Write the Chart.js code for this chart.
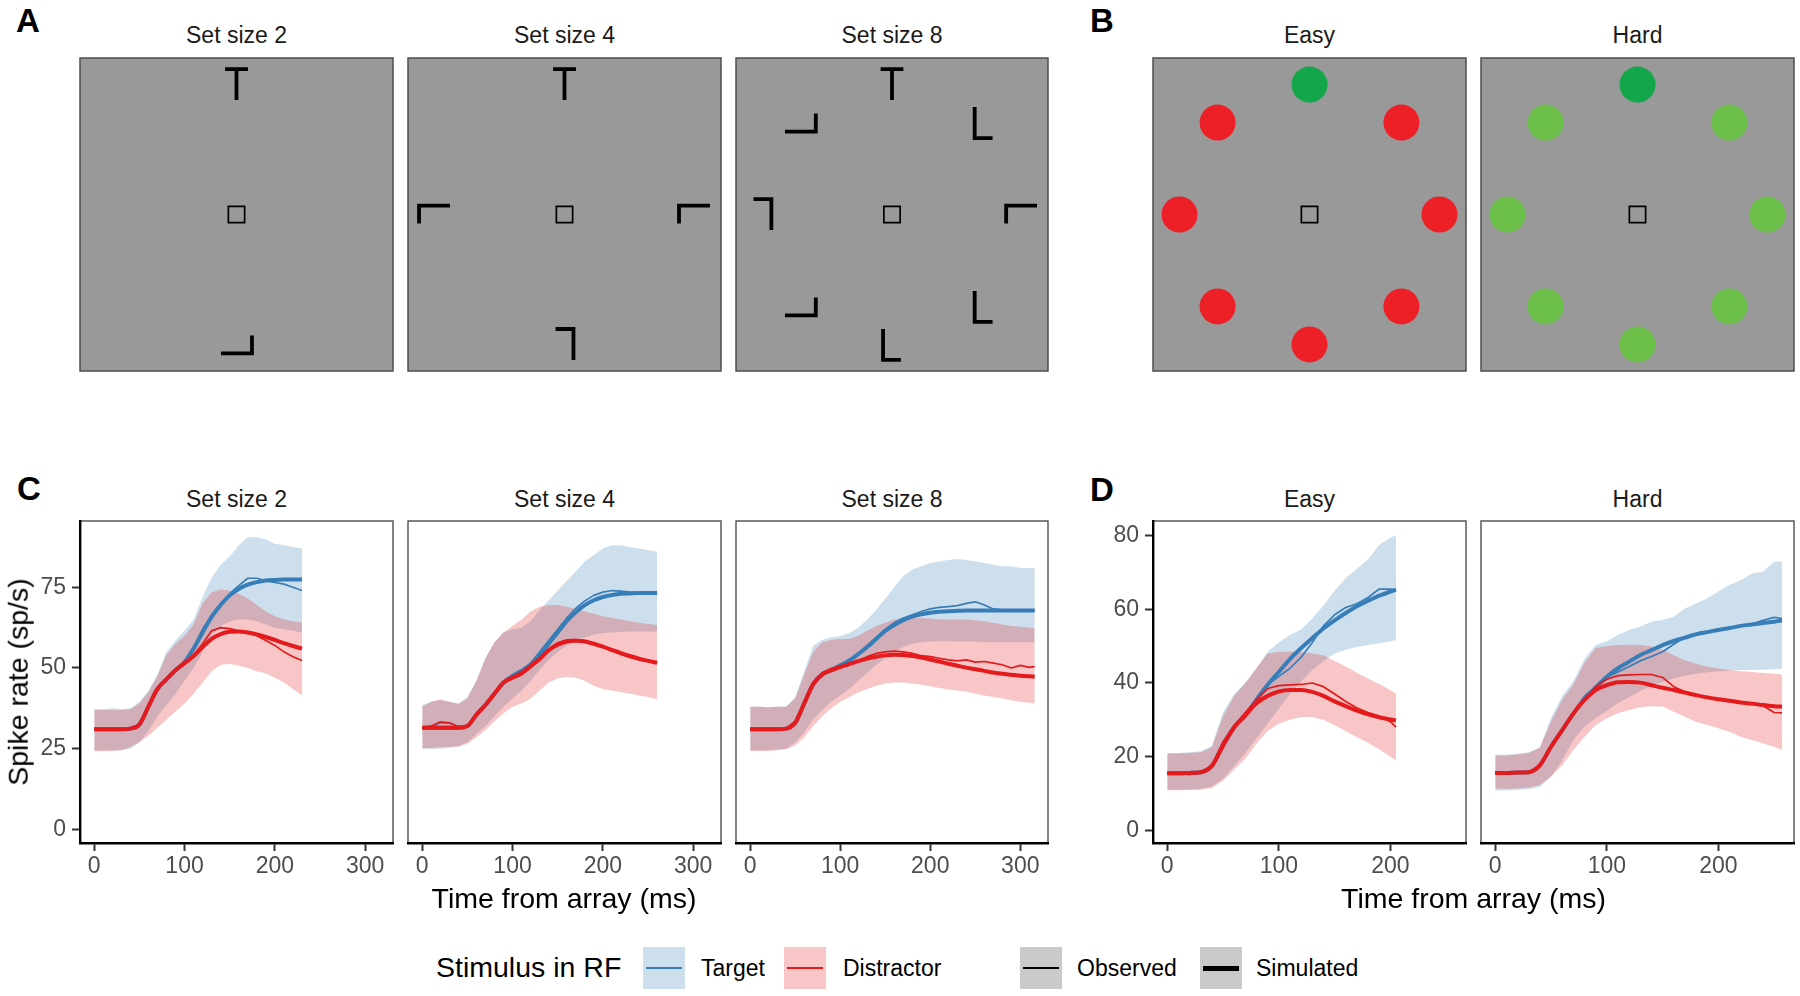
<!DOCTYPE html>
<html>
<head>
<meta charset="utf-8">
<script src="https://cdn.jsdelivr.net/npm/chart.js@4.4.1/dist/chart.umd.min.js"></script>
<style>
  html, body { margin: 0; padding: 0; background: #fff; }
  #fig { position: relative; width: 1800px; height: 996px; overflow: hidden;
         font-family: "Liberation Sans", Arial, sans-serif; }
  #fig canvas { position: absolute; }
  .txt { position: absolute; white-space: nowrap; line-height: 1; color: #000; }
  .ctr { transform: translateX(-50%); }
  .strip { font-size: 23px; color: #1a1a1a; }
  .tag { font-size: 33px; font-weight: bold; }
  .title { font-size: 28.5px; }
  .lab { font-size: 23px; }
  .key { position: absolute; width: 42px; height: 42px; }
  .key i { position: absolute; left: 3px; right: 3px; }
</style>
</head>
<body>
<div id="fig"></div>
<script>
// ---------- panel A: search arrays (angle on ring, glyph, glyph rotation) ----------
const ss2Angle = [90, 270];
const ss2Glyph = ['T', 'L'];
const ss2Rot = [0, 90];
const ss4Angle = [90, 180, 0, 270];
const ss4Glyph = ['T', 'L', 'L', 'L'];
const ss4Rot = [0, 270, 270, 180];
const ss8Angle = [90, 135, 45, 180, 0, 225, 315, 270];
const ss8Glyph = ['T', 'L', 'L', 'L', 'L', 'L', 'L', 'L'];
const ss8Rot = [0, 90, 0, 180, 270, 90, 0, 0];

// ---------- panel B: colour search arrays ----------
const ringAngle = [90, 45, 0, 315, 270, 225, 180, 135];
const easyKind = ['target', 'red', 'red', 'red', 'red', 'red', 'red', 'red'];
const hardKind = ['target', 'lime', 'lime', 'lime', 'lime', 'lime', 'lime', 'lime'];

// ---------- panel C / D: spike rates (sp/s) ----------
const tSS2 = [0,10,20,30,40,50,60,70,80,90,100,110,120,130,140,150,160,170,180,190,200,210,220,230];
const tgtLoSS2 = [24.5,24.5,24.5,24.5,25,27,30.5,35,38.5,42,46,50,55,60,63,64.5,65,65,64.5,63.5,62.5,62,61.5,61];
const tgtHiSS2 = [37.2,37.3,37.5,37.3,37.5,39.5,43,48,55,58.5,61.5,65,72,78,82,84.5,88,90.5,90.5,89.8,88.5,88,87.5,87];
const disLoSS2 = [24.2,24.2,24.3,24.5,25.5,27,29,31.5,34,36.5,39,42,45.5,49,51,51.2,50.8,50,49,48.3,47,45.5,43.5,41.5];
const disHiSS2 = [37,37,37,37,37.2,39,42.5,47.5,54,57.5,60,63.5,70,73.5,74.3,74,73,71.5,69.5,67.5,66,65,64.5,64];
const tgtObsSS2 = [31,31,30.8,31,31.3,32.5,38.5,43,46.5,49.5,52,56.5,62,66.5,70,73,75.5,77.8,77.8,77,76.5,76,75,74];
const tgtSimSS2 = [31,31,31,31,31.2,32.5,38,43.5,46.5,49.3,51.8,56,61,65.8,69.5,72.5,74.5,75.8,76.6,77.1,77.3,77.4,77.4,77.4];
const disObsSS2 = [31,31,30.8,31,31.3,32.5,38.5,43,46.5,49.5,51.8,54,57.5,61.5,62.5,62.2,61.5,61,60,58.5,57,55,53.5,52.3];
const disSimSS2 = [31,31,31,31,31.2,32.5,38,43.5,46.5,49.3,51.5,53.7,56.5,59,60.5,61.2,61.3,61,60.4,59.6,58.7,57.7,56.8,56];

const tSS4 = [0,10,20,30,40,50,60,70,80,90,100,110,120,130,140,150,160,170,180,190,200,210,220,230,240,250,260];
const tgtLoSS4 = [25,25,25,25.3,25.8,27,29.5,32,35,38,40.5,43,46,49.5,52.5,55,57,58.5,59.5,60.3,60.8,61,61.2,61.3,61.3,61.3,61.3];
const tgtHiSS4 = [38.5,39.5,40,39.5,39,41,46,53,58,61,62,62.5,64.5,68,71,74,77,80,83,85,87,88,88,87.5,87,86.5,86];
const disLoSS4 = [25.1,25.2,25.4,25.5,25.6,26.5,28.5,30.8,33.5,36,38,39,40.5,43,45.5,46.8,47.2,47,46,44.5,43.5,43,42.5,42,41.5,41,40.3];
const disHiSS4 = [38,39.5,40.3,39.5,38.8,40.5,46,53,58,61,63,65,67.5,69,69.5,69.5,69,68.3,67.5,66.8,66,65.5,65,64.5,64,63.6,63.3];
const tgtObsSS4 = [31.5,31.8,33,33,31.8,32,36,39,42.5,45.5,48,49.5,51.5,55,58.5,62,65.5,68.5,70.8,72.5,73.5,74,73.8,73.5,73.3,73,73];
const tgtSimSS4 = [31.5,31.5,31.5,31.5,31.5,32,35.5,38.5,42,45.5,47.5,49,51,54,57.5,61,64.5,67.3,69.5,71,72,72.6,73,73.1,73.2,73.2,73.2];
const disObsSS4 = [31.5,32,33.3,33,31.8,32,36,39,42.5,45.5,47.3,48.8,51,53.3,56,57.8,58.7,58.8,58.5,57.5,56.5,55.3,54.2,53.3,52.5,52,51.5];
const disSimSS4 = [31.5,31.5,31.5,31.5,31.5,32,35.5,38.5,42,45.5,47,48.3,50.5,52.8,55.5,57.2,58.2,58.4,58.2,57.5,56.6,55.6,54.6,53.7,52.9,52.2,51.6];

const tSS8 = [0,10,20,30,40,50,60,70,80,90,100,110,120,130,140,150,160,170,180,190,200,210,220,230,240,250,260,270,280,290,300,310,316];
const tgtLoSS8 = [24.5,24.5,24.5,24.7,25,27,30,34,37,39.5,41.5,43.5,46,48.5,51,53,55,56.5,57.5,58,58.2,58.3,58.3,58.2,58.2,58.2,58,58,58,58,58,58,58];
const tgtHiSS8 = [38,38,37.8,38,38,41,49,57,58.7,59.5,59.8,60.8,62.5,65,68,71.5,75,78.5,80.5,81.5,82.5,83,83.5,83.8,83.5,83,82.5,82,81.5,81.5,81,81,81];
const disLoSS8 = [24.3,24.3,24.3,24.5,24.8,26,28.5,32,35,37.5,39.5,41,42.5,43.5,44.5,45.2,45.5,45.5,45.2,44.8,44.3,43.8,43.3,43,42.7,42,41.5,41,40.5,40,39.5,39.2,39];
const disHiSS8 = [38,38,37.8,38,38,40.5,48,55,58,58.7,59,59,60,61.5,63,64,65,65.5,65.5,65.5,65.3,65,65,65,65,64.8,64.5,64,63.5,63,62.8,62.5,62.4];
const tgtObsSS8 = [31,31,30.8,31,31.3,33.5,39.5,45.5,48.5,49.8,51,52.5,54.5,57,59.5,62,64,65.5,66.5,67.5,68.3,68.8,69,69.3,70,70.5,69.5,68.3,68,68,67.8,68,67.8];
const tgtSimSS8 = [31,31,31,31,31.2,33,39,45,48,49.3,50.8,52.3,54.3,56.5,59,61.5,63.3,64.8,65.9,66.6,67.1,67.4,67.6,67.7,67.8,67.8,67.8,67.8,67.8,67.8,67.8,67.8,67.8];
const disObsSS8 = [31,31,31,30.8,31.2,33.5,39.5,45,48.5,49.8,50.5,51.5,52.3,53.5,54.5,55,55.2,55,54.5,53.8,53.5,53,52.5,52.2,52.5,51.8,52,51.5,51,50,50.8,50.2,50.4];
const disSimSS8 = [31,31,31,31,31.2,33,39,45,48,49.3,50.3,51.2,52.1,52.9,53.5,53.9,54.1,54,53.7,53.2,52.6,52,51.3,50.7,50.1,49.6,49.1,48.6,48.2,47.9,47.6,47.4,47.3];

const tEasy = [0,10,20,30,40,50,60,70,80,90,100,110,120,130,140,150,160,170,180,190,200,205];
const tgtLoEasy = [11,11,11,11.2,12,14,17.5,21,25,29,33,37,40.5,43.5,46,48,49,49.8,50.3,50.8,51.3,51.6];
const tgtHiEasy = [21,21,21.2,21.5,23,32,37,40,44,48.5,51,53,54.5,57.5,61,65,68.5,71,73.5,77.5,79.5,80];
const disLoEasy = [10.9,10.9,11,11,11.5,13.5,16.5,19.5,23.5,27,29,30,30.8,30.8,30,28.5,27,25.3,23.8,22,20,19];
const disHiEasy = [20.9,20.9,21,21.2,22.5,31,36.5,40,44,48,48.5,48.5,48.5,48,47.5,46,44.5,42.8,41.2,39.7,38,37];
const tgtObsEasy = [15.3,15.3,15.2,15.8,17.5,24,28.5,30.8,35.5,39.5,41.8,44,47,51,55.5,58.5,60.5,61.5,63.2,65.5,65.5,65.3];
const tgtSimEasy = [15.5,15.5,15.6,15.8,17.5,23,28,31.2,35.5,39.5,43,46.5,49.5,52.2,54.8,57,59,60.8,62.3,63.7,64.8,65.3];
const disObsEasy = [15.3,15.4,15.2,15.8,17.5,24,28.5,32,35.5,38.5,39.3,39.5,39.6,40,39,37,35,33.2,32,31,29.5,28];
const disSimEasy = [15.5,15.5,15.6,15.8,17.5,23,28,31.2,34.5,36.5,37.7,38.1,38.1,37.6,36.5,35,33.7,32.5,31.5,30.7,30.1,29.8];

const tHard = [0,10,20,30,40,50,60,70,80,90,100,110,120,130,140,150,160,170,180,190,200,210,220,230,240,250,257];
const tgtLoHard = [10.8,10.8,11,11.2,11.8,14.6,19,24.5,28.1,30.5,32.5,34.5,36.2,37.8,39.2,40.3,41.2,42,42.5,42.9,43.2,43.4,43.5,43.5,43.6,43.7,43.8];
const tgtHiHard = [20.5,20.5,20.8,21.2,22.5,30.5,36.5,40.5,46.5,50.3,51.3,53,54.4,55.3,56.6,57.1,58,60.2,61.6,63,64.8,66.6,67.9,69.7,70.2,72.9,73];
const disLoHard = [11.3,11.3,11.4,11.6,12.3,14.6,17.7,21.8,25.4,28.6,30.4,31.8,32.7,33.4,33.7,33.6,32.2,30.8,29.5,28.6,27.7,26.8,25.4,24.5,23.6,22.7,21.8];
const disHiHard = [20.3,20.3,20.6,21,22.5,29.5,35.5,39.5,45.5,49.5,50,50.3,50.4,50.3,50,49,47.5,46.2,45.2,44.4,43.9,43.5,43.2,43,42.7,42.5,42.3];
const tgtObsHard = [15.4,15.5,15.6,15.8,17.5,22.5,27.5,32,36.5,39,41.5,43,44.5,46,47.2,48.5,50.5,52.5,53.5,54,54.6,55,55.6,56,57,57.8,57.5];
const tgtSimHard = [15.6,15.6,15.7,15.8,17.6,22.7,27.2,31.7,35.6,38.8,41.7,44,45.8,47.6,48.9,50.3,51.4,52.3,53.2,53.8,54.4,54.9,55.5,55.9,56.3,56.6,57];
const disObsHard = [15.6,15.6,15.7,15.8,17.5,22.5,27,31.5,35.5,39,41,42,42.2,42.3,42.3,41.5,39,37.6,36.8,36.1,35.6,35.2,34.7,34.3,33.8,32,31.9];
const disSimHard = [15.6,15.6,15.7,15.8,17.7,22.7,27.2,31.7,35.4,38.1,39.4,40.2,40.3,40.1,39.4,38.7,38.1,37.4,36.7,36.1,35.6,35.2,34.7,34.4,34,33.7,33.6];

// axis ticks
const xTicksC = [0, 100, 200, 300];
const xTicksD = [0, 100, 200];
const yTicksC = [0, 25, 50, 75];
const yTicksD = [0, 20, 40, 60, 80];

const stripA = ['Set size 2', 'Set size 4', 'Set size 8'];
const stripB = ['Easy', 'Hard'];

// ---------- layout / style ----------
const colL = [80, 408, 736, 1153, 1481];
const colR = [393, 721, 1048, 1466, 1794];
const BLUE = '#377EB8', RED = '#E41A1C';
const BLUE_BAND = 'rgba(55,126,184,0.25)', RED_BAND = 'rgba(228,26,28,0.25)';
const dotColour = { target: '#14A64A', red: '#ED2027', lime: '#6CC04A' };
const LIM = 1.204;          // ring radius = 1
const GH = 0.119, GA = 0.069, GB = 0.088;   // glyph half height, L arm, T bar

Chart.defaults.font.family = '"Liberation Sans", Arial, sans-serif';
const fig = document.getElementById('fig');

const panelFrame = {
  id: 'panelFrame',
  beforeDraw(chart, args, opts) {
    const { ctx, chartArea: a } = chart;
    ctx.save();
    if (opts.fill) {
      ctx.fillStyle = opts.fill;
      ctx.fillRect(a.left, a.top, a.right - a.left, a.bottom - a.top);
    }
    ctx.strokeStyle = opts.color;
    ctx.lineWidth = opts.width;
    ctx.strokeRect(a.left, a.top, a.right - a.left, a.bottom - a.top);
    ctx.restore();
  }
};

function placeCanvas(box, pad) {
  const c = document.createElement('canvas');
  const w = box.r - box.l + pad.l + pad.r, h = box.b - box.t + pad.t + pad.b;
  c.width = w; c.height = h;
  c.style.width = w + 'px'; c.style.height = h + 'px';
  c.style.left = (box.l - pad.l) + 'px'; c.style.top = (box.t - pad.t) + 'px';
  fig.appendChild(c);
  return c;
}

function addText(text, cls, style) {
  const d = document.createElement('div');
  d.className = 'txt ' + cls;
  d.textContent = text;
  Object.assign(d.style, style);
  fig.appendChild(d);
  return d;
}

function noPad(s) { s.paddingTop = 0; s.paddingBottom = 0; s.paddingLeft = 0; s.paddingRight = 0; }

// glyph strokes in local units, then rotated and moved onto the ring
function glyphLines(angles, glyphs, rots) {
  const pts = [];
  angles.forEach((ang, i) => {
    const cx = Math.cos(ang * Math.PI / 180), cy = Math.sin(ang * Math.PI / 180);
    const r = rots[i] * Math.PI / 180, cr = Math.cos(r), sr = Math.sin(r);
    const strokes = glyphs[i] === 'T'
      ? [[[-GB, GH], [GB, GH]], [[0, GH], [0, -GH]]]
      : [[[-GA, GH], [-GA, -GH], [GA, -GH]]];
    strokes.forEach(st => {
      st.forEach(([u, v]) => pts.push({ x: cx + u * cr - v * sr, y: cy + u * sr + v * cr }));
      pts.push({ x: cx, y: null });
    });
  });
  return pts;
}

function fixation() {
  return { data: [{ x: 0, y: 0 }], showLine: false, pointStyle: 'rect', pointRadius: 11.5,
           pointBorderWidth: 1.7, pointBorderColor: '#000', pointBackgroundColor: 'rgba(0,0,0,0)' };
}

function stimPanel(col, datasets) {
  const cv = placeCanvas({ l: colL[col], r: colR[col], t: 58, b: 371 }, { l: 2, r: 2, t: 2, b: 2 });
  new Chart(cv, {
    type: 'line',
    data: { datasets },
    options: {
      responsive: false, animation: false, devicePixelRatio: 1, events: [],
      layout: { padding: 2, autoPadding: false },
      scales: {
        x: { type: 'linear', display: false, min: -LIM, max: LIM },
        y: { type: 'linear', display: false, min: -LIM, max: LIM }
      },
      plugins: { legend: { display: false }, tooltip: { enabled: false },
                 panelFrame: { fill: '#999999', color: '#4D4D4D', width: 1.5 } }
    },
    plugins: [panelFrame]
  });
}

function tracePanel(col, times, s, xr, yr, xTicks, yTicks, showY) {
  const yW = 80, xH = 42;
  const cv = placeCanvas({ l: colL[col], r: colR[col], t: 521, b: 843 },
                         { l: showY ? yW : 3, r: 3, t: 3, b: xH });
  const pts = v => times.map((t, i) => ({ x: t, y: v[i] }));
  const band = (v, fill, colour, order) => ({ data: pts(v), borderWidth: 0, borderColor: 'rgba(0,0,0,0)',
      pointRadius: 0, fill: fill ? '-1' : false, backgroundColor: colour, order });
  const line = (v, colour, w, order, smooth) => ({ data: pts(v), borderColor: colour, borderWidth: w,
      pointRadius: 0, fill: false, order, cubicInterpolationMode: smooth ? 'monotone' : 'default',
      borderJoinStyle: 'round', borderCapStyle: 'butt' });
  const tickFont = { size: 23, family: '"Liberation Sans", Arial, sans-serif' };
  new Chart(cv, {
    type: 'line',
    data: {
      datasets: [
        band(s.tLo, false, BLUE_BAND, 10), band(s.tHi, true, BLUE_BAND, 10),
        band(s.dLo, false, RED_BAND, 9), band(s.dHi, true, RED_BAND, 9),
        line(s.tObs, BLUE, 1.7, 6, false), line(s.tSim, BLUE, 4, 5, true),
        line(s.dObs, RED, 1.7, 4, false), line(s.dSim, RED, 4, 3, true)
      ]
    },
    options: {
      responsive: false, animation: false, devicePixelRatio: 1, events: [],
      layout: { padding: { left: showY ? 0 : 3, right: 3, top: 3, bottom: 0 }, autoPadding: false },
      scales: {
        x: {
          type: 'linear', min: xr[0], max: xr[1],
          afterBuildTicks: sc => { sc.ticks = xTicks.map(v => ({ value: v })); },
          afterFit: sc => { sc.height = xH; noPad(sc); },
          ticks: { font: tickFont, color: '#4D4D4D', padding: 2, maxRotation: 0, autoSkip: false,
                   callback: v => String(v) },
          grid: { display: true, drawOnChartArea: false, drawTicks: true, tickLength: 8,
                  tickWidth: 2, tickColor: '#333333', color: '#333333' },
          border: { display: true, color: '#000', width: 2.4 }
        },
        y: {
          type: 'linear', display: showY, min: yr[0], max: yr[1],
          afterBuildTicks: sc => { sc.ticks = yTicks.map(v => ({ value: v })); },
          afterFit: sc => { sc.width = showY ? yW : 0; noPad(sc); },
          ticks: { font: tickFont, color: '#4D4D4D', padding: 6, autoSkip: false,
                   callback: v => String(v) },
          grid: { display: true, drawOnChartArea: false, drawTicks: true, tickLength: 8,
                  tickWidth: 2, tickColor: '#333333', color: '#333333' },
          border: { display: true, color: '#000', width: 2.4 }
        }
      },
      plugins: { legend: { display: false }, tooltip: { enabled: false },
                 panelFrame: { color: '#4D4D4D', width: 1.4 } }
    },
    plugins: [panelFrame]
  });
}

// ---------- panel A ----------
const glyphStyle = { showLine: true, borderColor: '#000', borderWidth: 3.8, pointRadius: 0,
                     spanGaps: false, borderCapStyle: 'butt', borderJoinStyle: 'miter' };
stimPanel(0, [{ ...glyphStyle, data: glyphLines(ss2Angle, ss2Glyph, ss2Rot) }, fixation()]);
stimPanel(1, [{ ...glyphStyle, data: glyphLines(ss4Angle, ss4Glyph, ss4Rot) }, fixation()]);
stimPanel(2, [{ ...glyphStyle, data: glyphLines(ss8Angle, ss8Glyph, ss8Rot) }, fixation()]);

// ---------- panel B ----------
function dots(kinds) {
  return { data: ringAngle.map(a => ({ x: Math.cos(a * Math.PI / 180), y: Math.sin(a * Math.PI / 180) })),
           showLine: false, pointRadius: 18, pointBorderWidth: 0,
           pointBackgroundColor: kinds.map(k => dotColour[k]), pointBorderColor: 'rgba(0,0,0,0)' };
}
stimPanel(3, [dots(easyKind), fixation()]);
stimPanel(4, [dots(hardKind), fixation()]);

// ---------- panels C and D ----------
const xrC = [-15.75, 330.75], yrC = [-4.25, 95.55];
const xrD = [-12.75, 267.75], yrD = [-3.42, 83.96];
tracePanel(0, tSS2, { tLo: tgtLoSS2, tHi: tgtHiSS2, dLo: disLoSS2, dHi: disHiSS2,
  tObs: tgtObsSS2, tSim: tgtSimSS2, dObs: disObsSS2, dSim: disSimSS2 }, xrC, yrC, xTicksC, yTicksC, true);
tracePanel(1, tSS4, { tLo: tgtLoSS4, tHi: tgtHiSS4, dLo: disLoSS4, dHi: disHiSS4,
  tObs: tgtObsSS4, tSim: tgtSimSS4, dObs: disObsSS4, dSim: disSimSS4 }, xrC, yrC, xTicksC, yTicksC, false);
tracePanel(2, tSS8, { tLo: tgtLoSS8, tHi: tgtHiSS8, dLo: disLoSS8, dHi: disHiSS8,
  tObs: tgtObsSS8, tSim: tgtSimSS8, dObs: disObsSS8, dSim: disSimSS8 }, xrC, yrC, xTicksC, yTicksC, false);
tracePanel(3, tEasy, { tLo: tgtLoEasy, tHi: tgtHiEasy, dLo: disLoEasy, dHi: disHiEasy,
  tObs: tgtObsEasy, tSim: tgtSimEasy, dObs: disObsEasy, dSim: disSimEasy }, xrD, yrD, xTicksD, yTicksD, true);
tracePanel(4, tHard, { tLo: tgtLoHard, tHi: tgtHiHard, dLo: disLoHard, dHi: disHiHard,
  tObs: tgtObsHard, tSim: tgtSimHard, dObs: disObsHard, dSim: disSimHard }, xrD, yrD, xTicksD, yTicksD, false);

// ---------- text ----------
const strips = stripA.concat(stripB);
strips.forEach((s, i) => {
  const cx = (colL[i] + colR[i]) / 2 + 'px';
  addText(s, 'strip ctr', { left: cx, top: '23.8px' });
  addText(s, 'strip ctr', { left: cx, top: '487.5px' });
});
addText('A', 'tag', { left: '16px', top: '4.4px' });
addText('B', 'tag', { left: '1090px', top: '4.4px' });
addText('C', 'tag', { left: '17px', top: '472px' });
addText('D', 'tag', { left: '1090px', top: '473px' });

addText('Time from array (ms)', 'title ctr', { left: (colL[0] + colR[2]) / 2 + 'px', top: '883.6px' });
addText('Time from array (ms)', 'title ctr', { left: (colL[3] + colR[4]) / 2 + 'px', top: '883.6px' });
addText('Spike rate (sp/s)', 'title', { left: '17.5px', top: '682px',
  transform: 'translate(-50%,-50%) rotate(-90deg)' });

// ---------- legend ----------
function legendKey(left, fill, colour, w) {
  const k = document.createElement('div');
  k.className = 'key';
  k.style.left = left + 'px'; k.style.top = '947px'; k.style.background = fill;
  const ln = document.createElement('i');
  ln.style.top = (21 - w / 2) + 'px'; ln.style.height = w + 'px'; ln.style.background = colour;
  k.appendChild(ln);
  fig.appendChild(k);
}
addText('Stimulus in RF', 'title', { left: '436px', top: '952.6px' });
legendKey(643, '#CDDFED', BLUE, 2.8);
addText('Target', 'lab', { left: '701px', top: '957.2px' });
legendKey(784, '#F8C6C7', RED, 2.8);
addText('Distractor', 'lab', { left: '843px', top: '957.2px' });
legendKey(1020, '#CACACA', '#000', 2);
addText('Observed', 'lab', { left: '1077px', top: '957.2px' });
legendKey(1200, '#CACACA', '#000', 5);
addText('Simulated', 'lab', { left: '1256px', top: '957.2px' });
</script>
</body>
</html>
